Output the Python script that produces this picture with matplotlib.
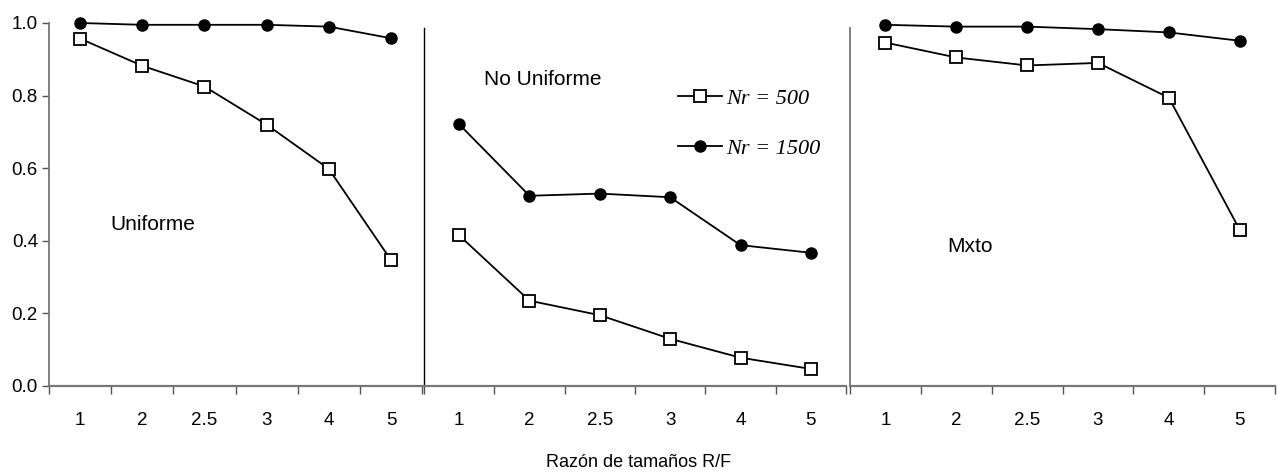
import numpy as np
import matplotlib.pyplot as plt
from matplotlib.lines import Line2D

plt.rcParams['font.family'] = ['Liberation Sans', 'DejaVu Sans']

# razon de tamanos R/F (categorias del eje x)
ratios = ["1", "2", "2.5", "3", "4", "5"]

# proporciones por distribucion
unif_500 = [0.957, 0.882, 0.825, 0.720, 0.598, 0.347]
unif_1500 = [1.000, 0.995, 0.995, 0.995, 0.990, 0.958]
nounif_500 = [0.415, 0.235, 0.195, 0.130, 0.078, 0.047]
nounif_1500 = [0.721, 0.524, 0.530, 0.520, 0.388, 0.367]
mixto_500 = [0.946, 0.905, 0.883, 0.890, 0.794, 0.430]
mixto_1500 = [0.995, 0.990, 0.990, 0.983, 0.974, 0.951]

panels = [
    ("Uniforme", unif_500, unif_1500, (0.48, 0.444)),
    ("No Uniforme", nounif_500, nounif_1500, (0.35, 0.843)),
    ("Mxto", mixto_500, mixto_1500, (0.87, 0.383)),
]

fig = plt.figure(figsize=(12.77, 4.75), dpi=100)
bottom, height = 0.1874, 0.7642
boxes = [(0.0384, 0.2921), (0.3320, 0.3305), (0.6656, 0.3330)]

x = np.arange(len(ratios))
axes = []
for (name, s500, s1500, (tx, ty)), (left, width) in zip(panels, boxes):
    ax = fig.add_axes([left, bottom, width, height])
    ax.plot(x, s1500, color="black", lw=1.3, marker="o", ms=8,
            mfc="black", mec="black", zorder=3, clip_on=False)
    ax.plot(x, s500, color="black", lw=1.3, marker="s", ms=8.5,
            mfc="white", mec="black", mew=1.3, zorder=3, clip_on=False)
    ax.set_xlim(-0.5, len(ratios) - 0.5)
    ax.set_ylim(0, 1.0)

    # ticks between categories, labels centred on each category
    ax.set_xticks(np.arange(len(ratios) + 1) - 0.5)
    ax.set_xticklabels([])
    ax.set_xticks(x, minor=True)
    ax.set_xticklabels(ratios, minor=True, fontsize=13.5)
    ax.tick_params(axis="x", which="major", direction="out", length=6,
                   width=1, color="#555555")
    ax.tick_params(axis="x", which="minor", length=0, pad=19)

    for side in ("top", "right"):
        ax.spines[side].set_visible(False)
    ax.spines["bottom"].set_color("#777777")
    ax.spines["bottom"].set_linewidth(1.6)

    ax.text(tx, ty, name, fontsize=15, va="center", ha="left")
    axes.append(ax)

ax1, ax2, ax3 = axes
ax1.set_yticks(np.arange(0, 1.01, 0.2))
ax1.set_yticklabels([f"{v:.1f}" for v in np.arange(0, 1.01, 0.2)], fontsize=13.5)
ax1.tick_params(axis="y", direction="out", length=5, width=1,
                color="#555555", pad=3)
ax1.spines["left"].set_color("#777777")
ax1.spines["left"].set_linewidth(1.3)

for ax, col in ((ax2, "black"), (ax3, "#777777")):
    ax.set_yticks([])
    ax.spines["left"].set_color(col)
    ax.spines["left"].set_linewidth(1.0 if col == "black" else 1.3)
    ax.spines["left"].set_bounds(0, 0.985)

handles = [
    Line2D([], [], color="black", lw=1.3, marker="s", ms=8.5, mfc="white",
           mec="black", mew=1.3),
    Line2D([], [], color="black", lw=1.3, marker="o", ms=8, mfc="black"),
]
ax2.legend(handles, ["Nr = 500", "Nr = 1500"], loc="upper left",
           bbox_to_anchor=(0.575, 0.85), frameon=False, borderpad=0,
           handlelength=2.0, handletextpad=0.2, labelspacing=1.3,
           prop={"family": "Liberation Serif", "style": "italic", "size": 16})

fig.text(0.5, 0.008, "Razón de tamaños R/F", ha="center", va="bottom",
         fontsize=13)

fig.savefig("out.png", dpi=100)
